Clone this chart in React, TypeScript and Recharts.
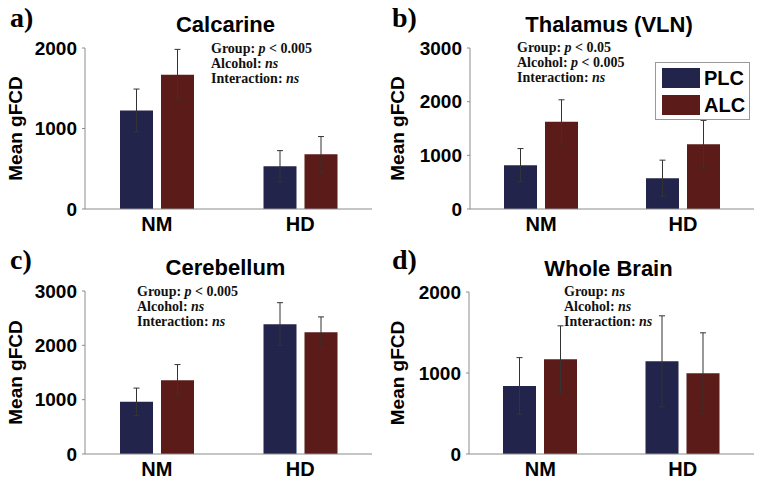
import { BarChart, Bar, XAxis, YAxis, ErrorBar, Legend } from "recharts";

// group labels on the x axis
const categories = ["NM", "HD"];
const seriesNames = ["PLC", "ALC"];

// a) Calcarine
const calcarinePlc = [1225, 530];
const calcarineAlc = [1668, 680];
const calcarinePlcErr = [265, 195];
const calcarineAlcErr = [315, 220];

// b) Thalamus (VLN)
const thalamusPlc = [816, 575];
const thalamusAlc = [1625, 1206];
const thalamusPlcErr = [310, 335];
const thalamusAlcErr = [410, 445];

// c) Cerebellum
const cerebellumPlc = [961, 2390];
const cerebellumAlc = [1356, 2243];
const cerebellumPlcErr = [252, 395];
const cerebellumAlcErr = [290, 280];

// d) Whole Brain
const wholeBrainPlc = [840, 1144];
const wholeBrainAlc = [1169, 996];
const wholeBrainPlcErr = [350, 562];
const wholeBrainAlcErr = [413, 500];

const ticks2000 = [0, 1000, 2000];
const ticks3000 = [0, 1000, 2000, 3000];

// *...* marks italic parts
const calcarineNotes = ["Group: *p* < 0.005", "Alcohol: *ns*", "Interaction: *ns*"];
const thalamusNotes = ["Group: *p* < 0.05", "Alcohol: *p* < 0.005", "Interaction: *ns*"];
const cerebellumNotes = ["Group: *p* < 0.005", "Alcohol: *ns*", "Interaction: *ns*"];
const wholeBrainNotes = ["Group: *ns*", "Alcohol: *ns*", "Interaction: *ns*"];

const PLC_COLOR = "#23244b";
const ALC_COLOR = "#5b1b18";
const AXIS = "#8c8c8c";
const SANS = "'Liberation Sans', Arial, sans-serif";
const SERIF = "'Liberation Serif', 'Times New Roman', serif";
const W = 382;
const H = 242;
const Y_AXIS_W = 60;

function NoteLine({ text, x, y }) {
  const parts = text.split("*");
  return (
    <text x={x} y={y} fontFamily={SERIF} fontWeight="bold" fontSize={14} fill="#111">
      {parts.map((p, i) => (
        <tspan key={i} fontStyle={i % 2 === 1 ? "italic" : "normal"}>
          {p}
        </tspan>
      ))}
    </text>
  );
}

function renderLegend(props) {
  const entries = [...(props.payload || [])].sort(
    (a, b) => seriesNames.indexOf(a.value) - seriesNames.indexOf(b.value)
  );
  return (
    <div
      style={{
        width: 93,
        height: 56,
        border: "1px solid #999",
        background: "#fff",
        boxSizing: "content-box",
        position: "relative",
      }}
    >
      {entries.map((entry, i) => (
        <div
          key={entry.value}
          style={{
            position: "absolute",
            left: 6,
            top: 5 + i * 26.5,
            display: "flex",
            alignItems: "center",
          }}
        >
          <span style={{ width: 38, height: 20, background: entry.color, display: "inline-block" }} />
          <span
            style={{
              marginLeft: 4,
              fontFamily: SANS,
              fontWeight: "bold",
              fontSize: 20,
              color: "#000",
              lineHeight: "20px",
            }}
          >
            {entry.value}
          </span>
        </div>
      ))}
    </div>
  );
}

function Panel({ letter, title, plc, alc, plcErr, alcErr, yMax, yTicks, notes, noteX, noteY, frame, legend }) {
  const rows = categories.map((name, i) => ({
    name,
    plc: plc[i],
    alc: alc[i],
    plcErr: plcErr[i],
    alcErr: alcErr[i],
  }));
  const midX = (frame.left + frame.right) / 2;
  const midY = (frame.top + frame.zero) / 2;
  const tickStyle = { fill: "#000", fontSize: 19, fontWeight: "bold", fontFamily: SANS };
  return (
    <BarChart
      width={W}
      height={H}
      data={rows}
      margin={{ top: frame.top, right: W - frame.right, left: frame.left - Y_AXIS_W, bottom: 0 }}
      barSize={33}
      barGap={8}
    >
      <XAxis
        dataKey="name"
        height={H - frame.zero}
        interval={0}
        axisLine={{ stroke: AXIS }}
        tickLine={false}
        tickSize={3}
        tickMargin={5}
        tick={{ ...tickStyle, fontSize: 20 }}
      />
      <YAxis
        width={Y_AXIS_W}
        domain={[0, yMax]}
        ticks={yTicks}
        allowDataOverflow
        axisLine={{ stroke: AXIS }}
        tickLine={{ stroke: AXIS }}
        tickSize={3}
        tickMargin={5}
        tick={tickStyle}
      />
      <Bar dataKey="plc" name={seriesNames[0]} fill={PLC_COLOR} isAnimationActive={false}>
        <ErrorBar dataKey="plcErr" width={3} stroke="#333" strokeWidth={1} direction="y" />
      </Bar>
      <Bar dataKey="alc" name={seriesNames[1]} fill={ALC_COLOR} isAnimationActive={false}>
        <ErrorBar dataKey="alcErr" width={3} stroke="#333" strokeWidth={1} direction="y" />
      </Bar>
      {legend && (
        <Legend
          layout="horizontal"
          verticalAlign="middle"
          align="center"
          content={renderLegend}
          wrapperStyle={{ left: 273, top: 62, width: 95, height: 58 }}
        />
      )}
      <text x={10} y={27} fontFamily={SERIF} fontWeight="bold" fontSize={28} fill="#000">
        {letter}
      </text>
      <text x={midX - 3} y={frame.top - 16} textAnchor="middle" fontFamily={SANS} fontWeight="bold" fontSize={22} fill="#000">
        {title}
      </text>
      <text
        x={22}
        y={midY}
        textAnchor="middle"
        transform={`rotate(-90, 22, ${midY})`}
        fontFamily={SANS}
        fontWeight="bold"
        fontSize={19}
        fill="#000"
      >
        Mean gFCD
      </text>
      {notes.map((line, i) => (
        <NoteLine key={i} text={line} x={noteX} y={noteY + i * 15} />
      ))}
    </BarChart>
  );
}

export default function App() {
  const cell = (left, top, child) => (
    <div style={{ position: "absolute", left, top, width: W, height: H }}>{child}</div>
  );
  return (
    <div style={{ position: "absolute", left: 0, top: 0, width: 764, height: 484, background: "#fff" }}>
      {cell(
        0,
        0,
        <Panel
          letter="a)"
          title="Calcarine"
          plc={calcarinePlc}
          alc={calcarineAlc}
          plcErr={calcarinePlcErr}
          alcErr={calcarineAlcErr}
          yMax={2000}
          yTicks={ticks2000}
          notes={calcarineNotes}
          noteX={211}
          noteY={53}
          frame={{ left: 85, right: 372, top: 48, zero: 209 }}
        />
      )}
      {cell(
        382,
        0,
        <Panel
          letter="b)"
          title="Thalamus (VLN)"
          plc={thalamusPlc}
          alc={thalamusAlc}
          plcErr={thalamusPlcErr}
          alcErr={thalamusAlcErr}
          yMax={3000}
          yTicks={ticks3000}
          notes={thalamusNotes}
          noteX={135}
          noteY={52}
          frame={{ left: 88, right: 372, top: 48, zero: 209 }}
          legend
        />
      )}
      {cell(
        0,
        242,
        <Panel
          letter="c)"
          title="Cerebellum"
          plc={cerebellumPlc}
          alc={cerebellumAlc}
          plcErr={cerebellumPlcErr}
          alcErr={cerebellumAlcErr}
          yMax={3000}
          yTicks={ticks3000}
          notes={cerebellumNotes}
          noteX={137}
          noteY={53.5}
          frame={{ left: 85, right: 372, top: 49, zero: 212 }}
        />
      )}
      {cell(
        382,
        242,
        <Panel
          letter="d)"
          title="Whole Brain"
          plc={wholeBrainPlc}
          alc={wholeBrainAlc}
          plcErr={wholeBrainPlcErr}
          alcErr={wholeBrainAlcErr}
          yMax={2000}
          yTicks={ticks2000}
          notes={wholeBrainNotes}
          noteX={182}
          noteY={53.5}
          frame={{ left: 87, right: 372, top: 50, zero: 212 }}
        />
      )}
    </div>
  );
}
